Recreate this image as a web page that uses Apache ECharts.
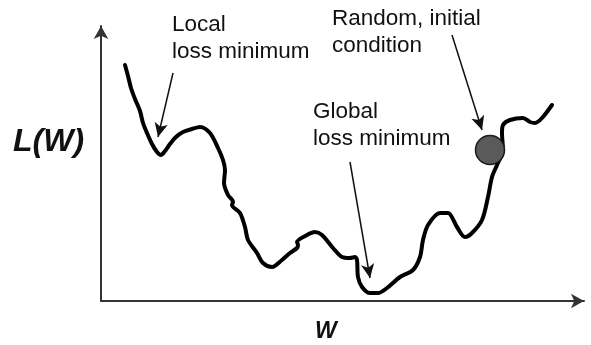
<!DOCTYPE html>
<html>
<head>
<meta charset="utf-8">
<script src="https://cdn.jsdelivr.net/npm/echarts@6/dist/echarts.min.js"></script>
<style>
html,body{margin:0;padding:0;background:#fff;}
#chart{width:591px;height:345px;}
</style>
</head>
<body>
<div id="chart"></div>
<script>
// Loss landscape curve: weight w and loss L(w)
var wValues = [2.4,2.7,3.0,3.4,3.9,4.2,4.6,5.1,5.6,6.0,6.4,6.9,7.5,8.2,9.1,9.9,10.9,11.7,12.2,12.4,12.3,12.7,13.2,13.1,13.9,14.4,14.7,15.6,16.2,17.1,18.1,18.9,19.6,19.7,19.6,20.6,21.4,22.1,23.2,24.1,24.9,25.4,25.6,25.7,26.1,26.9,27.7,28.6,29.9,31.2,31.9,32.2,32.7,33.9,34.7,35.6,36.4,37.1,38.1,38.7,39.1,39.6,40.2,40.1,40.2,40.9,42.2,42.9,43.4,44.1,45.1];
var lossValues = [23.6,22.5,21.3,20.2,19.0,17.8,16.8,15.7,14.9,14.6,15.0,15.7,16.4,16.9,17.2,17.4,16.8,15.3,14.1,13.1,11.8,10.6,9.9,9.6,8.8,7.4,6.1,4.8,3.8,3.4,4.1,4.8,5.3,5.6,5.9,6.6,6.9,6.6,5.3,4.4,4.3,4.4,4.1,2.4,1.4,0.8,0.8,1.3,2.4,3.1,4.4,6.1,7.6,8.8,8.8,7.4,6.4,6.8,8.1,10.4,12.4,13.6,15.1,16.8,17.6,18.1,18.3,17.9,17.8,18.3,19.6];
// Ball (random initial condition)
var ballW = 38.9;
var ballL = 15.1;
// Annotation arrows: start and end points [w, L]
var arrowStarts = [[7.2,22.8],[35.1,26.6],[24.9,13.9]];
var arrowEnds = [[5.7,16.4],[38.1,17.1],[26.9,2.3]];
// Texts
var annotationTexts = ['Local\nloss minimum','Random, initial\ncondition','Global\nloss minimum'];
var yAxisTitle = 'L(W)';
var xAxisTitle = 'W';
var axisMaxW = 48.3;
var axisMaxL = 27.5;

var curve = wValues.map(function(w,i){return [w, lossValues[i]];});
var arrowData = arrowStarts.map(function(s,i){
  return [{coord:s},{coord:arrowEnds[i]}];
});
var FONT = '"Liberation Sans", Arial, sans-serif';
var textPos = [[172,11],[332,5],[313,98]];

var chart = echarts.init(document.getElementById('chart'), null, {renderer:'canvas'});
chart.setOption({
  animation:false,
  backgroundColor:'#fff',
  grid:{left:101, right:7, top:26, bottom:44},
  xAxis:{type:'value', min:0, max:axisMaxW,
    axisLine:{show:true, onZero:false, symbol:['none','arrow'], symbolSize:[11,13], lineStyle:{color:'#333', width:2}},
    axisTick:{show:false}, axisLabel:{show:false}, splitLine:{show:false}},
  yAxis:{type:'value', min:0, max:axisMaxL,
    axisLine:{show:true, onZero:false, symbol:['none','arrow'], symbolSize:[11,13], lineStyle:{color:'#333', width:2}},
    axisTick:{show:false}, axisLabel:{show:false}, splitLine:{show:false}},
  series:[
    {type:'line', data:curve, smooth:0.3, showSymbol:false, symbol:'none',
     lineStyle:{color:'#000', width:4, cap:'round', join:'round'}, z:2,
     markLine:{silent:true, symbol:['none','arrow'], symbolSize:[10,14],
       lineStyle:{type:'solid', color:'#111', width:1.5}, label:{show:false},
       emphasis:{disabled:true}, data:arrowData}},
    {type:'scatter', data:[[ballW, ballL]], symbol:'circle', symbolSize:29, z:3,
     itemStyle:{color:'#5a5a5a', borderColor:'#1a1a1a', borderWidth:1.5, opacity:1}}
  ],
  graphic:[
    {type:'text', left:textPos[0][0], top:textPos[0][1], style:{text:annotationTexts[0], font:'22.5px '+FONT, lineHeight:27, fill:'#111'}},
    {type:'text', left:textPos[1][0], top:textPos[1][1], style:{text:annotationTexts[1], font:'22.5px '+FONT, lineHeight:27, fill:'#111'}},
    {type:'text', left:textPos[2][0], top:textPos[2][1], style:{text:annotationTexts[2], font:'22.5px '+FONT, lineHeight:27, fill:'#111'}},
    {type:'text', left:13, top:126, style:{text:yAxisTitle, font:'italic bold 32px '+FONT, lineHeight:32, fill:'#111'}},
    {type:'text', left:315, top:320, style:{text:xAxisTitle, font:'italic bold 23px '+FONT, lineHeight:23, fill:'#111'}}
  ]
});
</script>
</body>
</html>
